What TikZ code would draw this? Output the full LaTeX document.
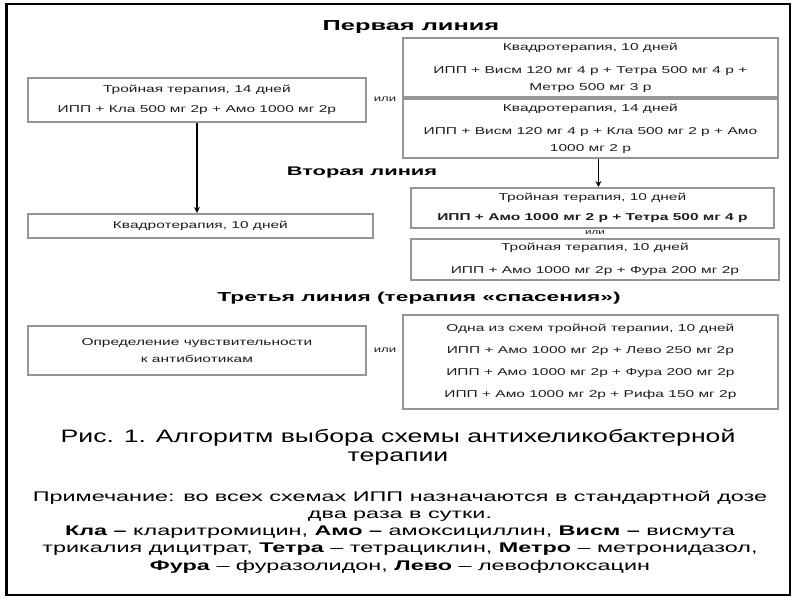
\documentclass[tikz,border=0pt]{standalone}
\usepackage{fontspec}
\setmainfont{Liberation Sans}
\newfontfamily\boxfont[FakeStretch=1.55]{Liberation Sans}
\newfontfamily\capfont[FakeStretch=1.48]{Liberation Sans}
\newfontfamily\headfont[FakeStretch=1.75]{Liberation Sans}
\newfontfamily\notefont[FakeStretch=1.67]{Liberation Sans}
\usetikzlibrary{arrows.meta}
\definecolor{boxgray}{RGB}{150,150,150}
\definecolor{txt}{RGB}{30,30,30}
\tikzset{
  bx/.style={draw=boxgray, line width=1.8pt, anchor=north west, align=center,
    inner sep=0pt, text=txt},
  bt/.style={font=\boxfont\fontsize{10}{20}\selectfont},
  ili/.style={font=\boxfont\fontsize{8.5}{10}\selectfont, text=txt, inner sep=0pt},
  head/.style={font=\headfont\bfseries\fontsize{12.5}{14}\selectfont, inner sep=0pt},
  arr/.style={line width=1.4pt, -{Stealth[length=6pt,width=6pt]}},
}
\begin{document}
\begin{tikzpicture}[x=1pt,y=-1pt]
\useasboundingbox (0,0) rectangle (800,600);
\fill[white] (0,0) rectangle (800,600);
% outer frame
\draw[line width=2pt] (6,4) rectangle (790,595);
\draw[line width=3.5pt] (6.5,3) -- (6.5,596);

% headings
\node[head, font=\headfont\bfseries\fontsize{14.5}{16}\selectfont] (h1) at (411,27) {Первая линия};
\node[head] (h2) at (362,172) {Вторая линия};
\node[head, font=\headfont\bfseries\fontsize{13}{15}\selectfont] (h3) at (419,298) {Третья линия (терапия «спасения»)};

% first line
\node[bx, bt, minimum width=338, minimum height=44] (A) at (27,77)
  {Тройная терапия, 14 дней\\ИПП + Кла 500 мг 2р + Амо 1000 мг 2р};
\node[bx, minimum width=375, minimum height=59, font=\boxfont\fontsize{10}{17}\selectfont] (B) at (402,37)
  {Квадротерапия, 10 дней\\[6pt]ИПП + Висм 120 мг 4 р + Тетра 500 мг 4 р +\\Метро 500 мг 3 р};
\node[bx, minimum width=375, minimum height=59, font=\boxfont\fontsize{10}{17}\selectfont] (C) at (402,98)
  {Квадротерапия, 14 дней\\[6pt]ИПП + Висм 120 мг 4 р + Кла 500 мг 2 р + Амо\\1000 мг 2 р};
\node[ili] (or1) at (385,99) {или};

% second line
\node[bx, bt, minimum width=345, minimum height=24] (D) at (27,213)
  {Квадротерапия, 10 дней};
\node[bx, bt, minimum width=363, minimum height=40] (E) at (410,187)
  {Тройная терапия, 10 дней\\\bfseries ИПП + Амо 1000 мг 2 р + Тетра 500 мг 4 р};
\node[ili, font=\boxfont\fontsize{7.5}{9}\selectfont] (or2) at (595,232.5) {или};
\node[bx, minimum width=368, minimum height=41, font=\boxfont\fontsize{10}{23}\selectfont] (F) at (410,238)
  {Тройная терапия, 10 дней\\ИПП + Амо 1000 мг 2р + Фура 200 мг 2р};

\draw[arr] (A.south) -- (A.south |- D.north);
\draw[arr] ([xshift=8pt]C.south) -- ([xshift=8pt]C.south |- E.north);

% third line
\node[bx, minimum width=338, minimum height=49, font=\boxfont\fontsize{10}{17}\selectfont] (G) at (27,325)
  {Определение чувствительности\\к антибиотикам};
\node[ili] (or3) at (385,350) {или};
\node[bx, minimum width=375, minimum height=94, font=\boxfont\fontsize{10}{22}\selectfont] (H) at (402,314)
  {Одна из схем тройной терапии, 10 дней\\ИПП + Амо 1000 мг 2р + Лево 250 мг 2р\\ИПП + Амо 1000 мг 2р + Фура 200 мг 2р\\ИПП + Амо 1000 мг 2р + Рифа 150 мг 2р};

% caption
\node[font=\capfont\fontsize{18}{19}\selectfont, align=center, inner sep=0pt] (cap) at (398,447)
  {Рис. 1. Алгоритм выбора схемы антихеликобактерной\\терапии};

% note
\node[font=\notefont\fontsize{14}{17.2}\selectfont, align=center, inner sep=0pt] (note) at (400,532)
  {Примечание: во всех схемах ИПП назначаются в стандартной дозе\\
   два раза в сутки.\\
   \textbf{Кла –} кларитромицин, \textbf{Амо –} амоксициллин, \textbf{Висм –} висмута\\
   трикалия дицитрат, \textbf{Тетра} – тетрациклин, \textbf{Метро} – метронидазол,\\
   \textbf{Фура} – фуразолидон, \textbf{Лево} – левофлоксацин};
\end{tikzpicture}
\end{document}
